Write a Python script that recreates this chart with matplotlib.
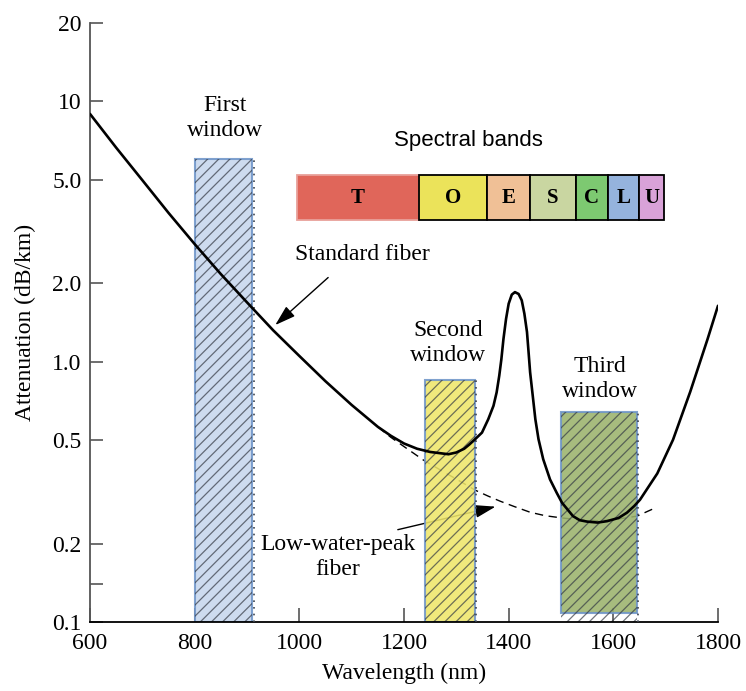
import matplotlib
matplotlib.use("Agg")
import matplotlib.pyplot as plt
from matplotlib.patches import Rectangle

# standard fiber attenuation (nm, dB/km)
std_wl = [600, 650, 700, 750, 800, 850, 900, 950, 1000, 1050, 1100, 1150, 1175, 1200,
          1225, 1250, 1285, 1300, 1315, 1325, 1336, 1349, 1361, 1371, 1377, 1382, 1386,
          1390, 1395, 1400, 1406, 1412, 1419, 1425, 1430, 1435, 1438, 1441, 1446, 1451,
          1457, 1466, 1479, 1492, 1502, 1523, 1536, 1550, 1570, 1588, 1610, 1626, 1640,
          1651, 1684, 1714, 1747, 1780, 1800]
std_att = [8.95, 6.64, 4.98, 3.73, 2.83, 2.17, 1.69, 1.32, 1.052, 0.841, 0.682, 0.562, 0.519, 0.485,
           0.463, 0.450, 0.441, 0.448, 0.463, 0.481, 0.504, 0.534, 0.601, 0.677, 0.762, 0.883, 1.02,
           1.22, 1.46, 1.67, 1.81, 1.85, 1.82, 1.72, 1.53, 1.30, 1.09, 0.910, 0.740, 0.601,
           0.504, 0.422, 0.353, 0.313, 0.287, 0.255, 0.246, 0.243, 0.241, 0.244, 0.251, 0.263, 0.279,
           0.295, 0.372, 0.501, 0.767, 1.22, 1.64]

# low-water-peak fiber (dashed)
lwp_wl = [1150, 1175, 1200, 1237, 1275, 1300, 1336, 1360, 1384, 1410, 1441, 1470, 1502,
          1535, 1569, 1600, 1645, 1683]
lwp_att = [0.562, 0.512, 0.472, 0.419, 0.378, 0.354, 0.321, 0.305, 0.291, 0.278, 0.264, 0.256,
           0.251, 0.247, 0.245, 0.247, 0.255, 0.276]

# transmission windows
win_names = ["First\nwindow", "Second\nwindow", "Third\nwindow"]
win_start = [800, 1240, 1500]
win_end = [910, 1335, 1645]
win_top = [6.0, 0.85, 0.64]
win_colors = ["#c6d6ed", "#eee66a", "#9bb36c"]
win_label_x = [858, 1284, 1575]
win_label_y = [8.6, 1.18, 0.86]

# spectral bands (schematic)
band_names = ["T", "O", "E", "S", "C", "L", "U"]
band_edges = [995, 1229, 1359, 1440, 1528, 1589, 1649, 1697]
band_colors = ["#e0665a", "#ebe35a", "#f0c096", "#c9d6a1", "#7dc971", "#95b3dd", "#d9a2d8"]
band_low, band_high = 3.5, 5.2

y_ticks = [0.1, 0.14, 0.2, 0.5, 1.0, 2.0, 5.0, 10, 20]
y_ticklabels = ["0.1", "", "0.2", "0.5", "1.0", "2.0", "5.0", "10", "20"]
x_ticks = [600, 800, 1000, 1200, 1400, 1600, 1800]

plt.rcParams["font.family"] = "Liberation Serif"
plt.rcParams["hatch.linewidth"] = 0.9

fig = plt.figure(figsize=(7.46, 6.91), dpi=100)
ax = fig.add_axes([90 / 746, 1 - 622 / 691, 628 / 746, 599 / 691])
ax.set_yscale("log")
ax.set_xlim(600, 1800)
ax.set_ylim(0.1, 20)

# curves
ax.plot(lwp_wl, lwp_att, color="black", lw=1.0, ls=(0, (6, 4)), zorder=1)
ax.plot(std_wl, std_att, color="black", lw=1.9, zorder=4,
        solid_capstyle="round", solid_joinstyle="round")

# windows
for i in range(len(win_names)):
    w = win_end[i] - win_start[i]
    bottom = 0.108 if i == 2 else 0.1
    ax.add_patch(Rectangle((win_start[i], bottom), w, win_top[i] - bottom,
                           facecolor=win_colors[i], edgecolor="#6f95c9", lw=1.5,
                           alpha=0.88, zorder=2))
    ax.add_patch(Rectangle((win_start[i], 0.1), w, win_top[i] - 0.1,
                           facecolor="none", edgecolor="#343a44", lw=0,
                           hatch="///", alpha=0.7, zorder=2.5))
    ax.vlines(win_end[i] + 3, 0.1, win_top[i], color="#3c4450", lw=1.2,
              linestyles=(0, (1, 3)), zorder=2.6)
    ax.text(win_label_x[i], win_label_y[i], win_names[i], ha="center", va="center",
            fontsize=17, linespacing=1.25, zorder=5)

# spectral bands
for i in range(len(band_names)):
    ax.add_patch(Rectangle((band_edges[i], band_low), band_edges[i + 1] - band_edges[i],
                           band_high - band_low, facecolor=band_colors[i],
                           edgecolor="#e8a09a" if i == 0 else "black",
                           lw=1.3, zorder=3))
    mid = (band_edges[i] + band_edges[i + 1]) / 2
    ax.text(mid, (band_low * band_high) ** 0.5, band_names[i], ha="center", va="center",
            fontsize=15, fontweight="bold", zorder=5)
ax.text(1323, 7.1, "Spectral bands", ha="center", va="center", fontsize=16,
        family="Liberation Sans")

# annotations
ax.text(1120, 2.58, "Standard fiber", ha="center", va="center", fontsize=17)
ax.annotate("", xy=(950, 1.36), xytext=(1059, 2.14),
            arrowprops=dict(arrowstyle="-|>,head_length=0.7,head_width=0.22",
                            color="black", lw=1.0, mutation_scale=18), zorder=5)
ax.text(1074, 0.178, "Low-water-peak\nfiber", ha="center", va="center", fontsize=17,
        linespacing=1.25)
ax.annotate("", xy=(1380, 0.279), xytext=(1183, 0.225),
            arrowprops=dict(arrowstyle="-|>,head_length=0.7,head_width=0.22",
                            color="black", lw=1.0, mutation_scale=18), zorder=1)

# axes styling
ax.spines["top"].set_visible(False)
ax.spines["right"].set_visible(False)
ax.spines["left"].set_color("#555555")
ax.spines["left"].set_linewidth(1.3)
ax.spines["bottom"].set_linewidth(1.3)
ax.set_yticks(y_ticks)
ax.set_yticklabels(y_ticklabels)
ax.minorticks_off()
ax.set_xticks(x_ticks)
ax.tick_params(axis="y", direction="in", length=9, width=1.2, color="#555555",
               labelsize=17, pad=6)
ax.tick_params(axis="x", direction="in", length=10, width=1.2, color="#555555",
               labelsize=17, pad=8)
ax.set_xlabel("Wavelength (nm)", fontsize=17, labelpad=6)
ax.set_ylabel("Attenuation (dB/km)", fontsize=17, labelpad=12)

fig.savefig("out.png", dpi=100)
